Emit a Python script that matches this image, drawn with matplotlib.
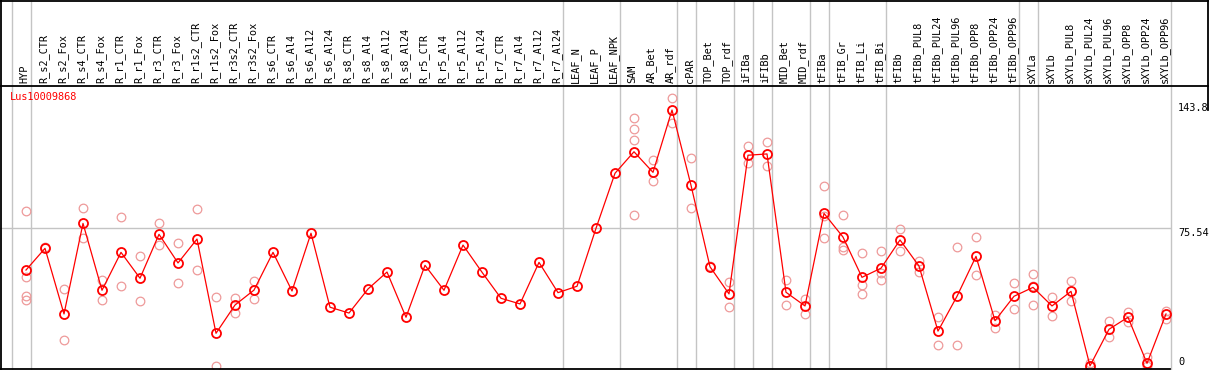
import matplotlib
matplotlib.use("Agg")
import matplotlib.pyplot as plt
from matplotlib.lines import Line2D

samples = ["HYP", "R_s2_CTR", "R_s2_Fox", "R_s4_CTR", "R_s4_Fox", "R_r1_CTR", "R_r1_Fox",
           "R_r3_CTR", "R_r3_Fox", "R_r1s2_CTR", "R_r1s2_Fox", "R_r3s2_CTR", "R_r3s2_Fox",
           "R_s6_CTR", "R_s6_Al4", "R_s6_Al12", "R_s6_Al24", "R_s8_CTR", "R_s8_Al4", "R_s8_Al12",
           "R_s8_Al24", "R_r5_CTR", "R_r5_Al4", "R_r5_Al12", "R_r5_Al24", "R_r7_CTR", "R_r7_Al4",
           "R_r7_Al12", "R_r7_Al24", "LEAF_N", "LEAF_P", "LEAF_NPK", "SAM", "AR_Bet", "AR_rdf",
           "cPAR", "TOP_Bet", "TOP_rdf", "iFIBa", "iFIBb", "MID_Bet", "MID_rdf", "tFIBa",
           "tFIB_Gr", "tFIB_Li", "tFIB_Bi", "tFIBb", "tFIBb_PUL8", "tFIBb_PUL24", "tFIBb_PUL96",
           "tFIBb_OPP8", "tFIBb_OPP24", "tFIBb_OPP96", "sXYLa", "sXYLb", "sXYLb_PUL8",
           "sXYLb_PUL24", "sXYLb_PUL96", "sXYLb_OPP8", "sXYLb_OPP24", "sXYLb_OPP96"]

means = [52.6, 64.5, 28.5, 78.2, 41.5, 62.3, 48.1, 72.2, 56.5, 69.6, 17.9, 33.4, 41.6,
         62.3, 41.1, 72.8, 32.2, 29.0, 42.2, 51.5, 26.7, 55.2, 41.5, 66.3, 51.4, 37.1, 34.0,
         56.8, 40.2, 43.7, 75.5, 105.7, 117.5, 106.2, 140.4, 99.1, 54.4, 39.5, 115.6, 116.3,
         40.4, 32.9, 83.7, 70.7, 48.6, 53.6, 69.1, 54.8, 19.1, 38.2, 60.1, 24.8, 38.2, 43.1,
         32.9, 40.9, 0.0, 20.1, 26.7, 1.4, 28.5]

replicates = [
    [85.0, 48.9, 38.4, 36.2], [65.4], [42.4, 14.2], [86.5, 70.0], [47.1, 36.2],
    [81.5, 43.8], [60.3, 35.4], [78.2, 66.3], [67.3, 45.3], [86.1, 52.5], [37.6, 0.0],
    [37.2, 29.2], [46.6, 36.5],
    [], [], [], [], [], [], [], [], [], [], [], [], [], [], [], [], [], [], [],
    [135.9, 130.2, 123.8, 82.6], [112.9, 101.2], [146.8, 133.1], [113.8, 86.6], [55.0],
    [46.0, 32.5], [120.7, 111.2], [122.7, 109.9], [46.9, 33.2], [36.6, 28.3],
    [98.6, 82.3, 70.1], [82.6, 65.4, 63.6], [61.7, 44.5, 39.2], [62.8, 50.7, 46.9],
    [74.9, 62.8], [57.4, 51.7], [26.7, 11.3], [65.0, 11.3], [70.5, 49.7], [28.0, 20.7],
    [45.3, 31.1], [50.5, 44.1, 33.5], [37.6, 27.2], [46.4, 35.4], [1.8, 0.0], [24.6, 16.1],
    [29.6, 24.3], [4.7, 0.0], [30.3, 25.9]]

group_ends = [-1, 0, 28, 31, 34, 35, 37, 38, 39, 41, 42, 45, 52, 53, 60]
title = "Lus10009868"
ytick_vals = ["143.8", "75.54", "0"]

W, H = 1209, 370
fig = plt.figure(figsize=(W / 100, H / 100), dpi=100)
ax = fig.add_axes([0, 0, 1, 1])
ax.set_axis_off()
# pixel mapping: x_px = 26 + 19*i ; y_px = 365.9 - 1.8225*v
ax.set_xlim(-26 / 19, (W - 26) / 19)
ax.set_ylim((365.9 - H) / 1.8225, 365.9 / 1.8225)

def fy(px):
    return 1 - px / H

def fx(px):
    return px / W

grey = "#c4c4c4"
mono = "DejaVu Sans Mono"

# vertical group separators
for g in group_ends:
    ax.axvline(g + 5 / 19, color=grey, lw=1, zorder=1)

# horizontal grid line at mid value
ax.axhline(float(ytick_vals[1]), xmin=0, xmax=1170 / W, color=grey, lw=1, zorder=1)

# frame lines
for (x0, y0, x1, y1) in [(0, 0.5, W, 0.5), (0, 86, W, 86), (0, 369, 1170, 369),
                         (1, 0, 1, H), (1208, 0, 1208, 110)]:
    fig.add_artist(Line2D([fx(x0), fx(x1)], [fy(y0), fy(y1)], color="black", lw=1.3,
                          transform=fig.transFigure, zorder=5))

# header labels
trans = ax.get_xaxis_transform()
for i, s in enumerate(samples):
    ax.text(i - 1.5 / 19, fy(83), s, rotation=90, ha="center", va="bottom",
            fontsize=7.4, family=mono, transform=trans, color="black")

# replicate points
for i, reps in enumerate(replicates):
    if reps:
        ax.plot([i] * len(reps), reps, linestyle="none", marker="o", markersize=6.2,
                markerfacecolor="none", markeredgecolor="#ee9a9a", markeredgewidth=0.9,
                zorder=3)

# mean line
ax.plot(range(len(samples)), means, color="red", lw=0.9, zorder=4)
ax.plot(range(len(samples)), means, linestyle="none", marker="o", markersize=6.5,
        markerfacecolor="none", markeredgecolor="red", markeredgewidth=1.3, zorder=5)

# title
fig.text(fx(10), fy(97), title, color="red", fontsize=7.4, family=mono,
         ha="left", va="center")

# y labels
for lab, ypx in zip(ytick_vals, [108, 232.5, 362]):
    fig.text(fx(1178), fy(ypx), lab, color="black", fontsize=7.4, family=mono,
             ha="left", va="center")

fig.savefig("out.png", dpi=100)
